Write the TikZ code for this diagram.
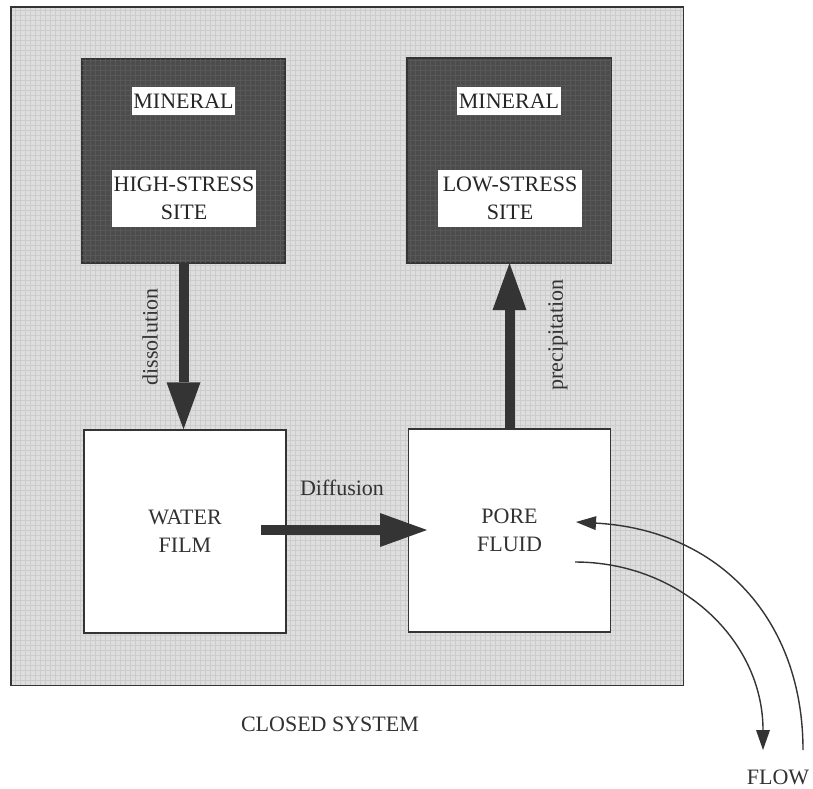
\documentclass[tikz,border=0pt]{standalone}
\usepackage{fontspec}
\setmainfont{Liberation Serif}
\usetikzlibrary{arrows.meta}
\definecolor{bggray}{RGB}{222,222,222}
\definecolor{gridgray}{RGB}{204,204,204}
\definecolor{darkfill}{RGB}{76,76,76}
\definecolor{darkgrid}{RGB}{88,88,88}
\definecolor{ink}{RGB}{52,52,52}
\definecolor{txt}{RGB}{50,50,50}
\tikzset{
  every node/.style={font=\fontsize{22}{28}\selectfont, text=txt},
  sysbox/.style={fill=bggray, inner sep=0pt, minimum width=672pt, minimum height=678pt},
  darkbox/.style={draw=ink, line width=1.2pt, fill=darkfill, inner sep=0pt, minimum width=203pt, minimum height=204pt},
  whitebox/.style={draw=ink, line width=1.5pt, fill=white, inner sep=0pt, minimum width=202pt, minimum height=203pt, align=center},
  lab/.style={fill=white, inner sep=0pt, align=center, text=black!85},
  bigarrow/.style={draw=ink, line width=10pt, -{Triangle[width=34pt,length=47pt,line width=0pt]}},
  flowarrow/.style={draw=ink, line width=1.4pt, -{Triangle[width=14pt,length=20pt,line width=0pt]}},
}
\begin{document}
\begin{tikzpicture}[x=1pt,y=-1pt]
\useasboundingbox (0,0) rectangle (813,788);
\fill[white] (0,0) rectangle (813,788);
% closed system background
\node[sysbox, anchor=north west] (sys) at (11,7) {};
\begin{scope}
\clip (sys.south west) rectangle (sys.north east);
\draw[gridgray, line width=0.8pt, step=5pt] (10,5) grid (690,690);
\end{scope}
\draw[ink, line width=1.4pt] (sys.south west) rectangle (sys.north east);
% mineral boxes
\node[darkbox] (hs) at (183.5,161) {};
\node[darkbox] (ls) at (509,160.5) {};
\begin{scope}
\clip (hs.south west) rectangle (hs.north east);
\draw[darkgrid, line width=0.8pt, step=5pt] (80,55) grid (290,270);
\end{scope}
\begin{scope}
\clip (ls.south west) rectangle (ls.north east);
\draw[darkgrid, line width=0.8pt, step=5pt] (400,55) grid (615,270);
\end{scope}
\draw[ink, line width=1.2pt] (hs.south west) rectangle (hs.north east);
\draw[ink, line width=1.2pt] (ls.south west) rectangle (ls.north east);
\node[lab, minimum width=103pt, minimum height=28pt] (hsmin) at (183.5,101) {MINERAL};
\node[lab, minimum width=144pt, minimum height=57pt] (hssite) at (184,198.5) {HIGH-STRESS\\SITE};
\node[lab, minimum width=104pt, minimum height=28pt] (lsmin) at (509,101) {MINERAL};
\node[lab, minimum width=144pt, minimum height=57pt] (lssite) at (510,198.5) {LOW-STRESS\\SITE};
% fluid boxes
\node[whitebox] (wf) at (185,531.5) {WATER\\FILM};
\node[whitebox] (pf) at (509.5,530.5) {PORE\\FLUID};
% process arrows
\draw[bigarrow] (hs.south) -- (hs.south |- wf.north);
\draw[bigarrow] (pf.north) -- (pf.north |- ls.south);
\coordinate (dstart) at (261,530);
\coordinate (dend) at (427,530);
\draw[bigarrow] (dstart) -- (dend);
\node[rotate=90] (dislab) at (150,337) {dissolution};
\node[rotate=90] (preclab) at (558,335) {precipitation};
\node (difflab) at (342,488) {Diffusion};
% flow
\coordinate (fin) at (803,750);
\coordinate (fintip) at (576,522);
\coordinate (fout) at (575,562);
\coordinate (fouttip) at (763,750);
\draw[flowarrow] (fin) .. controls (803,620) and (720,530) .. (fintip);
\draw[flowarrow] (fout) .. controls (680,562) and (763,640) .. (fouttip);
\node (closed) at (330,724) {CLOSED SYSTEM};
\node (flow) at (778,777) {FLOW};
\end{tikzpicture}
\end{document}
